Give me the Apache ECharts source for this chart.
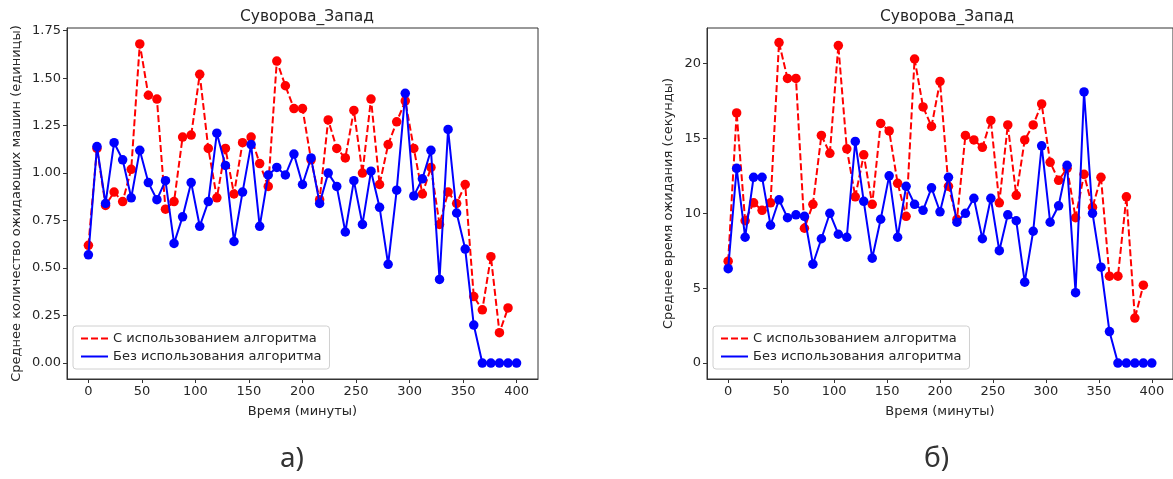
<!DOCTYPE html>
<html>
<head>
<meta charset="utf-8">
<script src="https://cdn.jsdelivr.net/npm/echarts@6/dist/echarts.min.js"></script>
<style>
html,body{margin:0;padding:0;background:#fff;}
#main{width:1173px;height:479px;}
</style>
</head>
<body>
<div id="main"></div>
<script>
var times=[0,8,16,24,32,40,48,56,64,72,80,88,96,104,112,120,128,136,144,152,160,168,176,184,192,200,
208,216,224,232,240,248,256,264,272,280,288,296,304,312,320,328,336,344,352,360,368,376,384,392,400];

// а) среднее количество ожидающих машин
var carsAlgo=[0.62,1.13,0.83,0.90,0.85,1.02,1.68,1.41,1.39,0.81,0.85,1.19,1.20,1.52,1.13,0.87,1.13,0.89,1.16,1.19,
1.05,0.93,1.59,1.46,1.34,1.34,1.07,0.86,1.28,1.13,1.08,1.33,1.00,1.39,0.94,1.15,1.27,1.38,1.13,0.89,
1.03,0.73,0.90,0.84,0.94,0.35,0.28,0.56,0.16,0.29,null];
var carsNoAlgo=[0.57,1.14,0.84,1.16,1.07,0.87,1.12,0.95,0.86,0.96,0.63,0.77,0.95,0.72,0.85,1.21,1.04,0.64,0.90,1.15,
0.72,0.99,1.03,0.99,1.10,0.94,1.08,0.84,1.00,0.93,0.69,0.96,0.73,1.01,0.82,0.52,0.91,1.42,0.88,0.97,
1.12,0.44,1.23,0.79,0.60,0.20,0,0,0,0,0];

// б) среднее время ожидания
var waitAlgo=[6.8,16.7,9.5,10.7,10.2,10.7,21.4,19.0,19.0,9.0,10.6,15.2,14.0,21.2,14.3,11.1,13.9,10.6,16.0,15.5,
12.0,9.8,20.3,17.1,15.8,18.8,11.8,9.6,15.2,14.9,14.4,16.2,10.7,15.9,11.2,14.9,15.9,17.3,13.4,12.2,
13.0,9.7,12.6,10.4,12.4,5.8,5.8,11.1,3.0,5.2,null];
var waitNoAlgo=[6.3,13.0,8.4,12.4,12.4,9.2,10.9,9.7,9.9,9.8,6.6,8.3,10.0,8.6,8.4,14.8,10.8,7.0,9.6,12.5,
8.4,11.8,10.6,10.2,11.7,10.1,12.4,9.4,10.0,11.0,8.3,11.0,7.5,9.9,9.5,5.4,8.8,14.5,9.4,10.5,
13.2,4.7,18.1,10.0,6.4,2.1,0,0,0,0,0];

var xTicks=[0,50,100,150,200,250,300,350,400];
var yTicksA=[0,0.25,0.5,0.75,1.0,1.25,1.5,1.75];
var yTicksB=[0,5,10,15,20];

var nameAlgo='С использованием алгоритма';
var nameNoAlgo='Без использования алгоритма';

function pairs(vals){
  var out=[];
  for(var i=0;i<times.length;i++){
    if(vals[i]!=null) out.push([times[i],vals[i]]);
  }
  return out;
}

var FONT='DejaVu Sans';
var txt='#262626';

function xAx(gi){
  return {
    type:'value',gridIndex:gi,min:-20,max:420,
    name:'Время (минуты)',nameLocation:'middle',nameGap:26,
    nameTextStyle:{fontFamily:FONT,fontSize:13,color:txt},
    axisLine:{show:true,onZero:false,lineStyle:{color:'#333',width:1}},
    axisTick:{show:true,length:4,lineStyle:{color:'#333'},customValues:xTicks},
    axisLabel:{fontFamily:FONT,fontSize:13,color:txt,margin:6,customValues:xTicks},
    splitLine:{show:false}
  };
}
function yAx(gi,mn,mx,ticks,name,gap,fmt){
  return {
    type:'value',gridIndex:gi,min:mn,max:mx,
    name:name,nameLocation:'middle',nameRotate:90,nameGap:gap,
    nameTextStyle:{fontFamily:FONT,fontSize:13,color:txt},
    axisLine:{show:true,onZero:false,lineStyle:{color:'#333',width:1}},
    axisTick:{show:true,length:4,lineStyle:{color:'#333'},customValues:ticks},
    axisLabel:{fontFamily:FONT,fontSize:13,color:txt,margin:6,customValues:ticks,formatter:fmt},
    splitLine:{show:false}
  };
}
function ser(name,gi,vals,color,dashed){
  return {
    name:name,type:'line',xAxisIndex:gi,yAxisIndex:gi,data:pairs(vals),
    symbol:'circle',symbolSize:9.5,showSymbol:true,
    itemStyle:{color:color},
    lineStyle:{color:color,width:2,type:dashed?[7,3]:'solid'},
    animation:false,z:dashed?2:3
  };
}
function leg(left){
  return {
    left:left,top:326,orient:'vertical',itemGap:5,
    itemWidth:27,itemHeight:2,
    padding:[6,8,6,8],
    backgroundColor:'rgba(255,255,255,0.85)',
    borderColor:'#d0d0d0',borderWidth:1,borderRadius:3,
    textStyle:{fontFamily:FONT,fontSize:13,color:txt},
    data:[
      {name:nameAlgo,icon:'path://M0,0h7v2h-7z M10,0h7v2h-7z M20,0h7v2h-7z'},
      {name:nameNoAlgo,icon:'path://M0,0h27v2h-27z'}
    ]
  };
}

var chart=echarts.init(document.getElementById('main'),null,{renderer:'canvas'});
var option={
  backgroundColor:'#fff',
  animation:false,
  title:[
    {text:'Суворова_Запад',left:302,top:4,textAlign:'center',textStyle:{fontFamily:FONT,fontSize:15.5,fontWeight:'normal',color:txt}},
    {text:'Суворова_Запад',left:942,top:4,textAlign:'center',textStyle:{fontFamily:FONT,fontSize:15.5,fontWeight:'normal',color:txt}}
  ],
  legend:[leg(73),leg(713)],
  grid:[
    {left:67,top:28,width:471,height:351,show:true,borderColor:'#333',borderWidth:1,containLabel:false},
    {left:707,top:28,width:470,height:351,show:true,borderColor:'#333',borderWidth:1,containLabel:false}
  ],
  xAxis:[xAx(0),xAx(1)],
  yAxis:[
    yAx(0,-0.084,1.764,yTicksA,'Среднее количество ожидающих машин (единицы)',44,function(v){return v.toFixed(2);}),
    yAx(1,-1.065,22.37,yTicksB,'Среднее время ожидания (секунды)',32,function(v){return String(v);})
  ],
  series:[
    ser(nameAlgo,0,carsAlgo,'#ff0000',true),
    ser(nameNoAlgo,0,carsNoAlgo,'#0000ff',false),
    ser(nameAlgo,1,waitAlgo,'#ff0000',true),
    ser(nameNoAlgo,1,waitNoAlgo,'#0000ff',false)
  ],
  graphic:[
    {type:'text',left:280,top:445,style:{text:'а)',font:'28px "Noto Sans"',fill:'#333'}},
    {type:'text',left:924,top:445,style:{text:'б)',font:'28px "Noto Sans"',fill:'#333'}}
  ]
};
chart.setOption(option);
</script>
</body>
</html>
